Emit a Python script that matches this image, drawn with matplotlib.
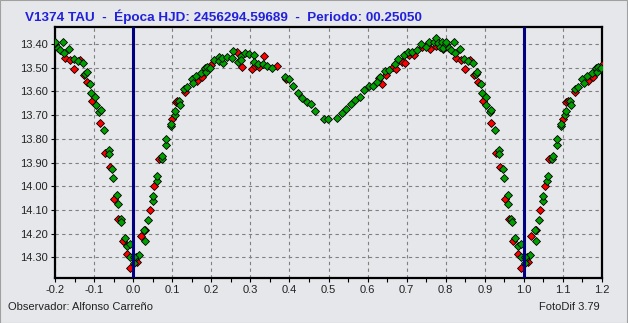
import numpy as np
import matplotlib
matplotlib.use("Agg")
import matplotlib.pyplot as plt
from matplotlib.patches import Rectangle

# light curve V1374 TAU, phase 0..1 (plotted again shifted by -1 and +1)
green_phase = [0.007, 0.016, 0.030, 0.028, 0.039, 0.050, 0.050, 0.060, 0.062, 0.073,
               0.074, 0.085, 0.084, 0.096, 0.096, 0.106, 0.107, 0.118, 0.121, 0.131,
               0.139, 0.150, 0.154, 0.162, 0.174, 0.184, 0.187, 0.189, 0.197, 0.207,
               0.219, 0.220, 0.230, 0.227, 0.241, 0.255, 0.253, 0.268, 0.277, 0.287,
               0.277, 0.297, 0.310, 0.310, 0.320, 0.332, 0.343, 0.356, 0.388, 0.400,
               0.409, 0.423, 0.433, 0.446, 0.456, 0.466, 0.489, 0.499, 0.523, 0.534,
               0.546, 0.557, 0.569, 0.580, 0.590, 0.603, 0.614, 0.623, 0.633, 0.644,
               0.656, 0.669, 0.679, 0.692, 0.703, 0.713, 0.727, 0.736, 0.749, 0.757,
               0.770, 0.776, 0.781, 0.786, 0.791, 0.794, 0.800, 0.801, 0.808, 0.813,
               0.820, 0.824, 0.837, 0.848, 0.858, 0.871, 0.877, 0.881, 0.890, 0.892,
               0.903, 0.904, 0.913, 0.917, 0.926, 0.937, 0.937, 0.947, 0.948, 0.959,
               0.960, 0.968, 0.970, 0.978, 0.984, 0.992, 0.992, 0.003, 0.003]
green_mag = [14.300, 14.290, 14.229, 14.184, 14.142, 14.062, 14.043, 13.979, 13.956, 13.887,
             13.871, 13.824, 13.800, 13.747, 13.737, 13.698, 13.681, 13.642, 13.656, 13.590,
             13.580, 13.547, 13.566, 13.535, 13.522, 13.500, 13.519, 13.498, 13.503, 13.466,
             13.456, 13.470, 13.480, 13.459, 13.456, 13.431, 13.460, 13.474, 13.449, 13.438,
             13.467, 13.442, 13.446, 13.474, 13.484, 13.484, 13.493, 13.501, 13.540, 13.547,
             13.578, 13.606, 13.628, 13.643, 13.654, 13.682, 13.716, 13.716, 13.712, 13.691,
             13.672, 13.654, 13.636, 13.623, 13.594, 13.578, 13.578, 13.560, 13.540, 13.514,
             13.511, 13.484, 13.465, 13.448, 13.435, 13.434, 13.425, 13.400, 13.412, 13.392,
             13.393, 13.375, 13.396, 13.411, 13.390, 13.417, 13.400, 13.392, 13.417, 13.425,
             13.392, 13.438, 13.421, 13.463, 13.470, 13.480, 13.526, 13.517, 13.569, 13.606,
             13.622, 13.656, 13.688, 13.677, 13.762, 13.847, 13.863, 13.927, 13.965, 14.036,
             14.074, 14.140, 14.151, 14.217, 14.252, 14.243, 14.299, 14.299, 14.323]

red_phase = [0.010, 0.019, 0.030, 0.042, 0.053, 0.065, 0.099, 0.109, 0.113, 0.132,
             0.164, 0.177, 0.199, 0.266, 0.279, 0.303, 0.313, 0.323, 0.335, 0.368,
             0.391, 0.628, 0.638, 0.647, 0.666, 0.673, 0.687, 0.697, 0.706, 0.720,
             0.739, 0.753, 0.761, 0.774, 0.793, 0.826, 0.839, 0.849, 0.863, 0.873,
             0.882, 0.895, 0.916, 0.928, 0.940, 0.951, 0.962, 0.973, 0.985, 0.993]
red_mag = [14.320, 14.210, 14.184, 14.100, 14.000, 13.887, 13.716, 13.646, 13.642, 13.602,
           13.554, 13.538, 13.487, 13.435, 13.498, 13.507, 13.494, 13.498, 13.451, 13.493,
           13.549, 13.543, 13.569, 13.532, 13.498, 13.507, 13.474, 13.481, 13.445, 13.448,
           13.414, 13.403, 13.421, 13.410, 13.421, 13.459, 13.467, 13.505, 13.466, 13.531,
           13.559, 13.639, 13.733, 13.861, 13.920, 14.053, 14.140, 14.229, 14.285, 14.344]

title = "V1374 TAU  -  Época HJD: 2456294.59689  -  Periodo: 00.25050"
observer = "Observador: Alfonso Carreño"
software = "FotoDif 3.79"

bg = "#e6e7ea"
plt.rcParams['font.family'] = ['Liberation Sans', 'DejaVu Sans']

fig = plt.figure(figsize=(6.28, 3.23), dpi=100, facecolor=bg)
ax = fig.add_axes([0.0876, 0.1393, 0.871, 0.7771], facecolor=bg)


def shifted(ph, mag):
    xs, ys = [], []
    for s in (-1, 0, 1):
        for p, m in zip(ph, mag):
            if -0.2 <= p + s <= 1.2:
                xs.append(p + s)
                ys.append(m)
    return xs, ys


rx, ry = shifted(red_phase, red_mag)
gx, gy = shifted(green_phase, green_mag)
ax.plot(rx, ry, ls='none', marker='D', ms=3.6, mfc='#ff0000', mec='black', mew=0.6, zorder=3)
ax.plot(gx, gy, ls='none', marker='D', ms=3.6, mfc='#00a000', mec='black', mew=0.6, zorder=3)

ax.axvline(0.0, color='#000080', lw=2.2, zorder=4)
ax.axvline(1.0, color='#000080', lw=2.2, zorder=4)

ax.set_xlim(-0.2, 1.2)
ax.set_ylim(14.387, 13.328)
ax.set_xticks(np.arange(-0.2, 1.21, 0.1))
ax.set_xticks(np.arange(-0.2, 1.21, 0.05), minor=True)
ax.set_yticks(np.arange(13.4, 14.31, 0.1))
ax.xaxis.set_major_formatter(matplotlib.ticker.FormatStrFormatter('%.1f'))
ax.yaxis.set_major_formatter(matplotlib.ticker.FormatStrFormatter('%.2f'))
ax.tick_params(axis='both', which='major', length=3, width=0.8, pad=2,
               labelsize=8, labelcolor='#222222', color='black')
ax.tick_params(axis='x', which='minor', length=3, width=0.8, color='black')

ax.grid(True, which='major', color='#808080', ls=(0, (3, 3)), lw=0.8)
ax.set_axisbelow(True)
for sp in ax.spines.values():
    sp.set_linewidth(1.6)
    sp.set_color('black')

fig.text(25 / 628, 1 - 17 / 323, title, color='#2121dd', fontsize=9.7, fontweight='bold',
         ha='left', va='center')
fig.text(8 / 628, 1 - 307 / 323, observer, color='#222222', fontsize=8, ha='left', va='center')
fig.text(600 / 628, 1 - 307 / 323, software, color='#222222', fontsize=8, ha='right', va='center')

# thin frame of the window
fig.patches.append(Rectangle((0, 0.5 / 323), 626.5 / 628, 1.0, transform=fig.transFigure,
                             fill=False, ec='#a0a0a0', lw=0.8))

fig.savefig("out.png", dpi=100, facecolor=bg)
